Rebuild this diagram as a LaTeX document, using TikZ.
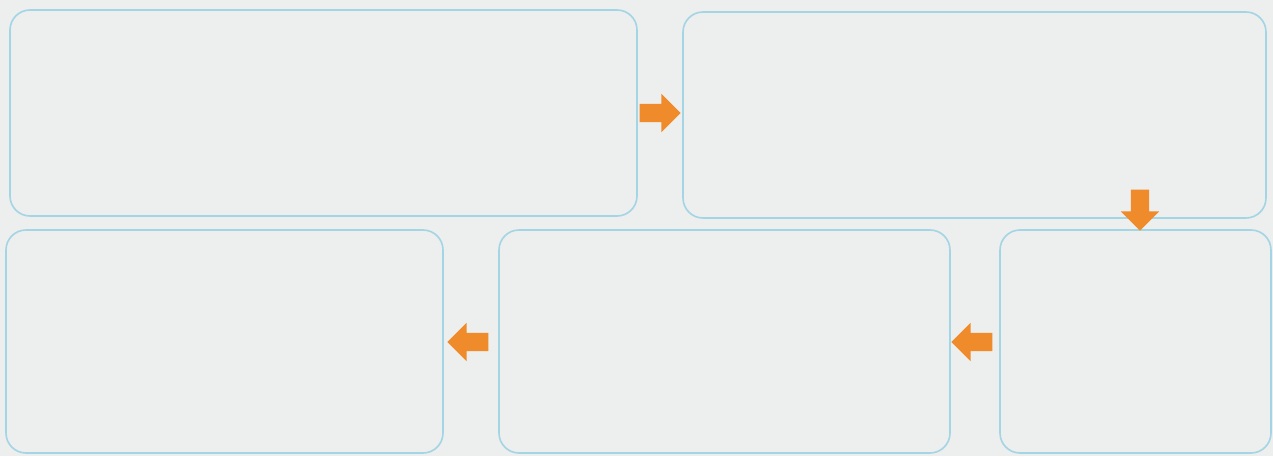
\documentclass[tikz,border=0pt]{standalone}
\usetikzlibrary{shapes.arrows}
\definecolor{paper}{HTML}{EDEEEE}
\definecolor{frameblue}{HTML}{A3D5E4}
\definecolor{arroworange}{HTML}{EF8B2A}
\begin{document}
\begin{tikzpicture}[x=1pt, y=1pt,
    stagebox/.style={draw=frameblue, line width=1.6pt, rounded corners=20pt, inner sep=0pt},
    flowarrow/.style={shape=single arrow, fill=arroworange, draw=none, inner sep=9pt,
      minimum height=41pt, minimum width=38pt, single arrow head extend=10pt,
      single arrow tip angle=90}]
  % paper background
  \fill[paper] (0,0) rectangle (1273,456);
  \useasboundingbox (0,0) rectangle (1273,456);

  % top row
  \node[stagebox, minimum width=627pt, minimum height=206pt] (first) at (323.5, 343) {};
  \node[stagebox, minimum width=583pt, minimum height=206pt] (second) at (974.5, 341) {};

  % bottom row (right to left)
  \node[stagebox, minimum width=271pt, minimum height=223pt] (third) at (1135.5, 114.5) {};
  \node[stagebox, minimum width=451pt, minimum height=223pt] (fourth) at (724.5, 114.5) {};
  \node[stagebox, minimum width=437pt, minimum height=223pt] (fifth) at (224.5, 114.5) {};

  % arrows between the boxes
  \node[flowarrow] (toSecond) at (655.5, 343) {};
  \node[flowarrow, shape border rotate=270] (toThird) at (1140, 250.5) {};
  \node[flowarrow, shape border rotate=180] (toFourth) at (976.5, 114) {};
  \node[flowarrow, shape border rotate=180] (toFifth) at (472.5, 114) {};
\end{tikzpicture}
\end{document}
